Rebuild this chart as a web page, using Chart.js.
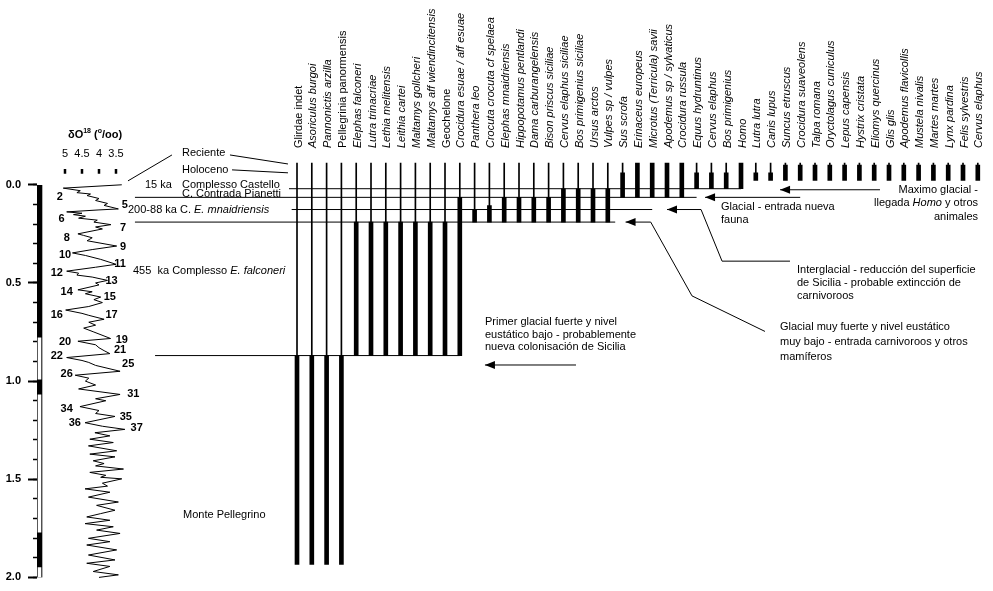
<!DOCTYPE html>
<html><head><meta charset="utf-8">
<script src="https://cdn.jsdelivr.net/npm/chart.js@4.4.1/dist/chart.umd.min.js"></script>
<style>html,body{margin:0;padding:0;background:#fff;}canvas{display:block;}</style>
</head><body>
<canvas id="c" width="993" height="591"></canvas>
<script>
const FONT = '"Liberation Sans", Arial, sans-serif';

// ---------- DATA ----------
const species = ["Glirdae indet","Asoriculus burgoi","Pannonictis arzilla","Pellegrinia panormensis","Elephas falconeri","Lutra trinacriae","Lethia melitensis","Leithia cartei","Maltamys gollcheri","Maltamys aff wiendincitensis","Geochelone","Crocidura esuae / aff esuae","Panthera leo","Crocuta crocuta cf spelaea","Elephas mnaidriensis","Hippopotamus pentlandi","Dama carburangelensis","Bison priscus siciliae","Cervus elaphus siciliae","Bos primigenius siciliae","Ursus arctos","Vulpes sp / vulpes","Sus scrofa","Erinaceus europeus","Microtus (Terricula) savii","Apodemus sp / sylvaticus","Crocidura russula","Equus hydruntinus","Cervus elaphus","Bos primigenius","Homo","Lutra lutra","Canis lupus","Suncus etruscus","Crocidura suaveolens","Talpa romana","Oryctolagus cuniculus","Lepus capensis","Hystrix cristata","Eliomys quercinus","Glis glis","Apodemus flavicollis","Mustela nivalis","Martes martes","Lynx pardina","Felis sylvestris","Cervus elaphus"];
// top of the thick (documented) range, Ma (schematic)
const fadMa = [0.870,0.870,0.870,0.870, 0.190,0.190,0.190,0.190,0.190,0.190,0.190, 0.064, 0.126, 0.106, 0.064,0.064,0.064,0.064, 0.020,0.020,0.020,0.020, -0.061, -0.111,-0.111,-0.111,-0.111, -0.061,-0.061,-0.061, -0.111, -0.061,-0.061, -0.101,-0.101,-0.101,-0.101,-0.101,-0.101,-0.101,-0.101,-0.101,-0.101,-0.101,-0.101,-0.101,-0.101];
// bottom of the thick range, Ma
const ladMa = [1.934,1.934,1.934,1.934, 0.870,0.870,0.870,0.870,0.870,0.870,0.870, 0.870, 0.190, 0.190, 0.190,0.190,0.190,0.190, 0.190,0.190,0.190,0.190, 0.064, 0.064,0.064,0.064,0.064, 0.020,0.020,0.020, 0.020, -0.022,-0.022, -0.022,-0.022,-0.022,-0.022,-0.022,-0.022,-0.022,-0.022,-0.022,-0.022,-0.022,-0.022,-0.022,-0.022];
const recordTopMa = -0.111;

const d18oAge = [0.000,0.017,0.030,0.040,0.047,0.055,0.070,0.080,0.095,0.105,0.123,0.128,0.138,0.145,0.152,0.160,0.170,0.180,0.190,0.203,0.215,0.225,0.250,0.258,0.270,0.285,0.312,0.330,0.347,0.360,0.380,0.405,0.420,0.440,0.450,0.460,0.470,0.487,0.500,0.510,0.535,0.545,0.555,0.572,0.585,0.600,0.620,0.638,0.655,0.665,0.685,0.700,0.715,0.730,0.750,0.783,0.797,0.815,0.830,0.845,0.860,0.880,0.895,0.905,0.920,0.950,0.970,0.985,1.000,1.020,1.040,1.068,1.090,1.100,1.130,1.150,1.165,1.180,1.212,1.230,1.246,1.263,1.279,1.296,1.313,1.330,1.355,1.372,1.386,1.406,1.420,1.432,1.448,1.465,1.480,1.490,1.498,1.520,1.535,1.549,1.566,1.591,1.616,1.633,1.658,1.675,1.692,1.709,1.726,1.742,1.759,1.776,1.801,1.818,1.835,1.860,1.886,1.911,1.928,1.944,1.970,1.987,2.000];
const d18oValue = [3.33,5.05,4.55,4.65,4.25,4.35,4.00,4.10,3.75,3.85,3.43,4.00,4.95,4.50,4.75,4.40,4.60,4.05,4.15,3.65,4.10,3.90,4.62,4.45,4.20,4.35,3.48,4.20,4.78,4.40,3.95,3.50,4.10,4.95,4.60,4.65,4.20,3.75,4.10,4.00,4.62,4.20,4.40,3.95,4.15,3.90,4.30,4.98,4.50,4.30,3.85,4.30,4.10,4.45,4.15,3.66,4.62,4.10,4.00,3.85,3.68,4.95,4.50,4.30,4.10,3.38,4.70,4.30,4.40,4.10,4.60,3.38,4.10,3.80,4.56,4.00,4.10,3.53,4.41,3.90,3.24,4.12,3.68,4.27,3.58,4.31,3.48,4.27,3.53,4.17,3.85,4.10,3.28,4.27,3.80,3.95,3.33,3.90,3.75,4.41,3.68,4.31,3.43,4.07,3.53,3.95,4.36,3.68,4.41,3.58,4.07,3.38,4.31,3.68,4.36,3.48,4.31,3.53,4.36,3.68,4.17,3.43,4.00];

const misLabels = ["2","5","6","7","8","9","10","11","12","13","14","15","16","17","19","20","21","22","25","26","31","34","35","36","37"];
const misDelta  = [5.15,3.24,5.10,3.29,4.95,3.29,5.00,3.38,5.24,3.63,4.95,3.68,5.24,3.63,3.33,5.00,3.38,5.24,3.14,4.95,2.99,4.95,3.21,4.71,2.89];
const misAge    = [0.064,0.101,0.173,0.219,0.269,0.317,0.359,0.404,0.451,0.491,0.544,0.569,0.665,0.665,0.791,0.800,0.842,0.870,0.914,0.965,1.064,1.140,1.183,1.212,1.237];

const chronTop    = [0.00, 0.78, 0.99, 1.07, 1.77, 1.95];
const chronBase   = [0.78, 0.99, 1.07, 1.77, 1.95, 2.00];
const chronNormal = [true, false, true, false, true, false];

const ageTicks = [0, 0.5, 1.0, 1.5, 2.0];
const ageMinorTicks = [0,0.1,0.2,0.3,0.4,0.5,0.6,0.7,0.8,0.9,1.0,1.1,1.2,1.3,1.4,1.5,1.6,1.7,1.8,1.9,2.0];
const d18oTicks = [5, 4.5, 4, 3.5];

// ---------- ANNOTATION GEOMETRY (in axis units: species index / Ma) ----------
const uprightNames = ["Glirdae indet","Pellegrinia panormensis","Geochelone"];
const polarityX = -17.4;
const levels = [
  {ma:0.020, from:-0.54, to:30},
  {ma:0.064, from:-10.95, to:27},
  {ma:0.126, from:-0.36, to:24},
  {ma:0.190, from:-10.95, to:21.5},
  {ma:0.870, from:-9.59, to:11}
];
const arrows = [
  {ma:0.0253, head:32.64, tail:39.39, leader:[]},
  {ma:0.064,  head:27.57, tail:34.0,  leader:[]},
  {ma:0.126,  head:25.0,  tail:27.3,  leader:[[28.72,0.389],[33.31,0.389]]},
  {ma:0.190,  head:22.2,  tail:23.9,  leader:[[26.69,0.566],[31.62,0.747]]},
  {ma:0.918,  head:12.70, tail:18.85, leader:[]}
];
const leaders = [
  [[-4.53,-0.152],[-0.61,-0.106]],
  [[-4.39,-0.076],[-0.61,-0.061]],
  [[-11.42,-0.020],[-8.45,-0.152]]
];
// free text (pixel anchors, left/right aligned, vertical middle)
const notes = [
  {x:182,y:153,s:[["Reciente"]]},
  {x:182,y:169.5,s:[["Holoceno"]]},
  {x:145,y:185,s:[["15 ka"]]},
  {x:182,y:184.5,s:[["Complesso Castello"]]},
  {x:182,y:194,s:[["C. Contrada Pianetti"]]},
  {x:128,y:210,s:[["200-88 ka C. "],["E. mnaidriensis",1]]},
  {x:133,y:271,s:[["455  ka Complesso "],["E. falconeri",1]]},
  {x:183,y:515,s:[["Monte Pellegrino"]]},
  {x:485,y:321.7,s:[["Primer glacial fuerte y nivel"]]},
  {x:485,y:335,s:[["eustático bajo - probablemente"]]},
  {x:485,y:347.3,s:[["nueva colonisación de Sicilia"]]},
  {x:721,y:206.7,s:[["Glacial - entrada nueva"]]},
  {x:721,y:220,s:[["fauna"]]},
  {x:978,y:190,s:[["Maximo glacial -"]],r:1},
  {x:978,y:203.3,s:[["llegada "],["Homo",1],[" y otros"]],r:1},
  {x:978,y:216.7,s:[["animales"]],r:1},
  {x:797,y:270,s:[["Interglacial - reducción del superficie"]]},
  {x:797,y:283,s:[["de Sicilia - probable extincción de"]]},
  {x:797,y:296,s:[["carnivoroos"]]},
  {x:780,y:327,s:[["Glacial muy fuerte y nivel eustático"]]},
  {x:780,y:342,s:[["muy bajo - entrada carnivoroos y otros"]]},
  {x:780,y:357,s:[["mamíferos"]]}
];

// ---------- DATASETS ----------
const lineDs = (pts, extra) => Object.assign({
  type:'line', data: pts.map(p => ({x:p[0], y:p[1]})), xAxisID:'x', yAxisID:'y',
  borderColor:'#000', borderWidth:1, pointRadius:0, fill:false, clip:false, tension:0, order:3
}, extra || {});
const barBase = {type:'bar', xAxisID:'x', yAxisID:'y', backgroundColor:'#000', borderWidth:0, grouped:false};

const datasets = [];
// polarity column
datasets.push(Object.assign({}, barBase, {order:1, barThickness:5,
  data:[{x:polarityX, y:[chronTop[0], chronBase[chronBase.length-1]]}]}));
datasets.push(Object.assign({}, barBase, {order:0, barThickness:3, backgroundColor:'#fff',
  data: chronTop.map((t,k) => chronNormal[k] ? null : {x:polarityX, y:[t, chronBase[k]]}).filter(Boolean)}));
// thin record lines
datasets.push(Object.assign({}, barBase, {order:2, barThickness:1,
  data: species.map((s,i) => fadMa[i] > recordTopMa ? {x:i, y:[recordTopMa, fadMa[i]]} : null).filter(Boolean)}));
// thick ranges
datasets.push(Object.assign({}, barBase, {order:2, barThickness:4,
  data: species.map((s,i) => ({x:i, y:[fadMa[i], ladMa[i]]}))}));
// level lines
levels.forEach(l => datasets.push(lineDs([[l.from,l.ma],[l.to,l.ma]])));
// arrows shafts + leaders
arrows.forEach(a => datasets.push(lineDs([[a.head,a.ma],[a.tail,a.ma]].concat(a.leader))));
leaders.forEach(p => datasets.push(lineDs(p)));
// d18O curve
datasets.push({type:'line', xAxisID:'xo', yAxisID:'y', order:3, clip:false,
  data: d18oAge.map((a,k) => ({x:d18oValue[k], y:a})),
  borderColor:'#000', borderWidth:1, pointRadius:0, tension:0, fill:false});
// d18O tick marks
const tickPts = [];
d18oTicks.forEach(v => { tickPts.push({x:v,y:-0.081},{x:v,y:-0.056},{x:v,y:null}); });
datasets.push({type:'line', xAxisID:'xo', yAxisID:'y', order:3, clip:false, data:tickPts,
  borderColor:'#000', borderWidth:2.5, pointRadius:0, spanGaps:false});

// ---------- TEXT / ARROWHEAD PLUGIN ----------
function richText(ctx, segs, x, y, size, bold, right) {
  const fonts = segs.map(s => (s[1] ? 'italic ' : '') + (bold ? 'bold ' : '') + size + 'px ' + FONT);
  const w = segs.map((s,k) => { ctx.font = fonts[k]; return ctx.measureText(s[0]).width; });
  let cx = right ? x - w.reduce((a,b)=>a+b,0) : x;
  ctx.textAlign = 'left'; ctx.textBaseline = 'middle';
  segs.forEach((s,k) => { ctx.font = fonts[k]; ctx.fillText(s[0], cx, y); cx += w[k]; });
}
const annot = {
  id:'annot',
  afterDatasetsDraw(chart) {
    const ctx = chart.ctx, xs = chart.scales.x, ys = chart.scales.y, xo = chart.scales.xo;
    const top = chart.chartArea.top;
    ctx.save();
    ctx.fillStyle = '#000';
    // species names
    species.forEach((name, i) => {
      ctx.save();
      ctx.translate(xs.getPixelForValue(i) + 4.5, top - 13);
      ctx.rotate(-Math.PI / 2);
      ctx.font = (uprightNames.includes(name) ? '' : 'italic ') + '11px ' + FONT;
      ctx.textAlign = 'left'; ctx.textBaseline = 'alphabetic';
      ctx.fillText(name, 0, 0);
      ctx.restore();
    });
    // arrowheads
    arrows.forEach(a => {
      const x = xs.getPixelForValue(a.head), y = ys.getPixelForValue(a.ma);
      ctx.beginPath(); ctx.moveTo(x, y); ctx.lineTo(x + 10, y - 4); ctx.lineTo(x + 10, y + 4); ctx.closePath(); ctx.fill();
    });
    // notes
    notes.forEach(n => richText(ctx, n.s, n.x, n.y, 11, false, n.r));
    // MIS numbers
    misLabels.forEach((t,k) => {
      ctx.font = 'bold 11px ' + FONT; ctx.textAlign = 'center'; ctx.textBaseline = 'middle';
      ctx.fillText(t, xo.getPixelForValue(misDelta[k]), ys.getPixelForValue(misAge[k]));
    });
    // d18O tick labels
    d18oTicks.forEach(v => {
      ctx.font = '11px ' + FONT; ctx.textAlign = 'center'; ctx.textBaseline = 'middle';
      ctx.fillText(String(v), xo.getPixelForValue(v), top - 7);
    });
    // header δO18 (o/oo)
    let hx = 68, hy = top - 26;
    const parts = [["δO",11,0],["18",7,-4],[" (",11,0],["o",7,-4],["/oo)",11,0]];
    ctx.textAlign = 'left'; ctx.textBaseline = 'middle';
    parts.forEach(p => { ctx.font = 'bold ' + p[1] + 'px ' + FONT; ctx.fillText(p[0], hx, hy + p[2]); hx += ctx.measureText(p[0]).width; });
    ctx.restore();
  }
};

new Chart(document.getElementById('c'), {
  type:'bar',
  data:{datasets},
  options:{
    responsive:false, animation:false, devicePixelRatio:1,
    layout:{padding:{top:161, right:5, bottom:10, left:0}, autoPadding:false},
    plugins:{legend:{display:false}, tooltip:{enabled:false}},
    events:[],
    scales:{
      x:{type:'linear', display:false, offset:false, min:-17.568, max:46.689},
      xo:{type:'linear', display:false, offset:false, reverse:true, min:-22.15, max:5.8235},
      y:{type:'linear', position:'left', reverse:true, min:-0.1212, max:2.0, weight:1,
         border:{display:false},
         grid:{drawOnChartArea:false, drawTicks:true, tickLength:9, tickWidth:2, tickColor:'#000'},
         ticks:{color:'#000', padding:7, font:{family:FONT, size:11, weight:'bold'}, callback:v => Number(v).toFixed(1)},
         afterBuildTicks:s => { s.ticks = ageTicks.map(v => ({value:v})); },
         afterFit:s => { s.width = 37; }},
      yMinor:{type:'linear', position:'left', reverse:true, min:-0.1212, max:2.0, weight:0,
         border:{display:false},
         grid:{drawOnChartArea:false, drawTicks:true, tickLength:4, tickWidth:1.5, tickColor:'#000'},
         ticks:{display:false},
         afterBuildTicks:s => { s.ticks = ageMinorTicks.map(v => ({value:v})); },
         afterFit:s => { s.width = 0; }}
    }
  },
  plugins:[annot]
});
</script></body></html>
